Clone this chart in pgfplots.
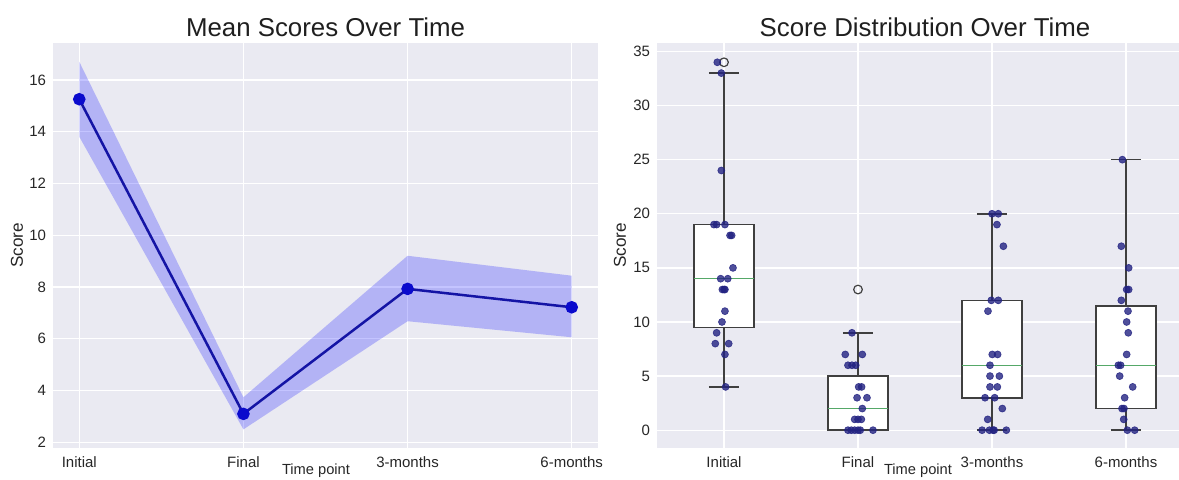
\documentclass[border=0pt]{standalone}
\usepackage{fontspec}
\setmainfont{Liberation Sans}
\usepackage{pgfplots}
\pgfplotsset{compat=1.18}
\usepgfplotslibrary{statistics}
\definecolor{bgc}{HTML}{EAEAF2}
\definecolor{txt}{HTML}{262626}
\definecolor{boxc}{HTML}{3F3F3F}
\definecolor{medc}{HTML}{55A868}
\definecolor{dotc}{RGB}{35,35,130}
\definecolor{linec}{RGB}{20,20,165}
\definecolor{markc}{RGB}{10,10,205}
\pgfplotsset{
  sbstyle/.style={
    scale only axis, height=242.5pt,
    axis background/.style={fill=bgc},
    axis line style={draw=none},
    major tick length=0pt,
    grid=major, grid style={white, line width=0.8pt},
    tick label style={font=\fontsize{9}{10}\selectfont, text=txt},
    /pgf/number format/assume math mode=true,
    yticklabel style={anchor=east, inner sep=0pt, xshift=-4pt},
    xticklabel style={anchor=base, inner sep=0pt, yshift=-12pt},
    title style={at={(0.5,1)}, anchor=base, yshift=-2pt, font=\fontsize{15.5}{16}\selectfont, text=black!88},
    every axis y label/.style={rotate=90, anchor=center, font=\fontsize{10.3}{11}\selectfont, text=txt},
    every axis x label/.style={anchor=center, font=\fontsize{8.8}{10}\selectfont, text=txt},
  }
}
\begin{document}
\begin{tikzpicture}
% ---------------- Left: mean scores ----------------
\begin{axis}[sbstyle, at={(31.8pt,18.9pt)}, anchor=south west, width=327pt,
  xmin=-0.16, xmax=3.16, ymin=1.8, ymax=17.42,
  xtick={0,1,2,3}, xticklabels={Initial,Final,3-months,6-months},
  ytick={2,4,...,16},
  title={Mean Scores Over Time},
  ylabel={Score}, ylabel style={at={(axis description cs:-0.066,0.5)}},
  xlabel={Time point}, xlabel style={at={(axis description cs:0.4826,-0.057)}}]
\addplot[draw=none, fill=blue, fill opacity=0.23] coordinates {
  (0,16.71) (1,3.74) (2,9.21) (3,8.44) (3,6.06) (2,6.68) (1,2.50) (0,13.81)} -- cycle;
\addplot[linec, line width=1.5pt, mark=*, mark size=3pt, mark options={fill=markc, draw=markc}]
  coordinates {(0,15.26) (1,3.1) (2,7.93) (3,7.22)};
\end{axis}
% ---------------- Right: distribution ----------------
\begin{axis}[sbstyle, at={(394.2pt,18.9pt)}, anchor=south west, width=321.6pt,
  xmin=0.5, xmax=4.5, ymin=-1.6, ymax=35.75,
  xtick={1,2,3,4}, xticklabels={Initial,Final,3-months,6-months},
  ytick={0,5,...,35},
  title={Score Distribution Over Time},
  ylabel={Score}, ylabel style={at={(axis description cs:-0.069,0.5)}},
  xlabel={Time point}, xlabel style={at={(axis description cs:0.487,-0.057)}},
  boxplot/draw direction=y,
  boxplot/every median/.style={draw=medc, line width=0.8pt}]
\addplot[boxplot prepared={draw position=1, lower whisker=4, lower quartile=9.5, median=14, upper quartile=19, upper whisker=33, box extend=0.45, whisker extend=0.225}, draw=boxc, line width=1pt, fill=white, solid] coordinates {};
\addplot[boxplot prepared={draw position=2, lower whisker=0, lower quartile=0, median=2, upper quartile=5, upper whisker=9, box extend=0.45, whisker extend=0.225}, draw=boxc, line width=1pt, fill=white, solid] coordinates {};
\addplot[boxplot prepared={draw position=3, lower whisker=0, lower quartile=3, median=6, upper quartile=12, upper whisker=20, box extend=0.45, whisker extend=0.225}, draw=boxc, line width=1pt, fill=white, solid] coordinates {};
\addplot[boxplot prepared={draw position=4, lower whisker=0, lower quartile=2, median=6, upper quartile=11.5, upper whisker=25, box extend=0.45, whisker extend=0.225}, draw=boxc, line width=1pt, fill=white, solid] coordinates {};
% outliers
\addplot[only marks, mark=o, mark size=2.6pt, mark options={draw=boxc, line width=0.7pt}] coordinates {(1,34) (2,13)};
% jittered points
\addplot[only marks, mark=*, mark size=2.1pt, mark options={fill=dotc, draw=dotc, fill opacity=0.8, draw opacity=0.8}] coordinates {
(0.95,34) (0.98,33) (0.98,24) (0.925,19) (0.945,19) (1.007,19) (1.045,18) (1.057,18) (1.067,15) (0.975,14) (1.028,14) (0.988,13) (1.0,13) (1.007,13) (1.007,11) (0.985,10) (0.945,9) (0.935,8) (1.035,8) (1.007,7) (1.012,4)
(1.955,9) (1.905,7) (2.032,7) (1.925,6) (1.955,6) (1.983,6) (2.005,4) (2.027,4) (1.993,3) (2.067,3) (2.032,2) (1.975,1) (2.0,1) (2.025,1) (1.925,0) (1.95,0) (1.975,0) (2.0,0) (2.017,0) (2.112,0)
(3.0,20) (3.047,20) (3.037,19) (3.085,17) (2.995,12) (3.047,12) (2.97,11) (3.002,7) (3.042,7) (2.985,6) (2.985,5) (3.055,5) (2.985,4) (3.04,4) (2.948,3) (3.02,3) (3.077,2) (2.968,1) (2.926,0) (2.981,0) (3.008,0) (3.016,0) (3.107,0)
(3.973,25) (3.965,17) (4.02,15) (4.005,13) (4.02,13) (3.965,12) (4.015,11) (4.005,10) (4.017,9) (4.005,7) (3.943,6) (3.96,6) (3.953,5) (4.05,4) (3.99,3) (3.985,2) (3.97,2) (3.983,1) (4.01,0) (4.065,0)
};
\end{axis}
\pgfresetboundingbox
\path[use as bounding box] (0,0) rectangle (707.4pt,287.4pt);
\end{tikzpicture}
\end{document}
